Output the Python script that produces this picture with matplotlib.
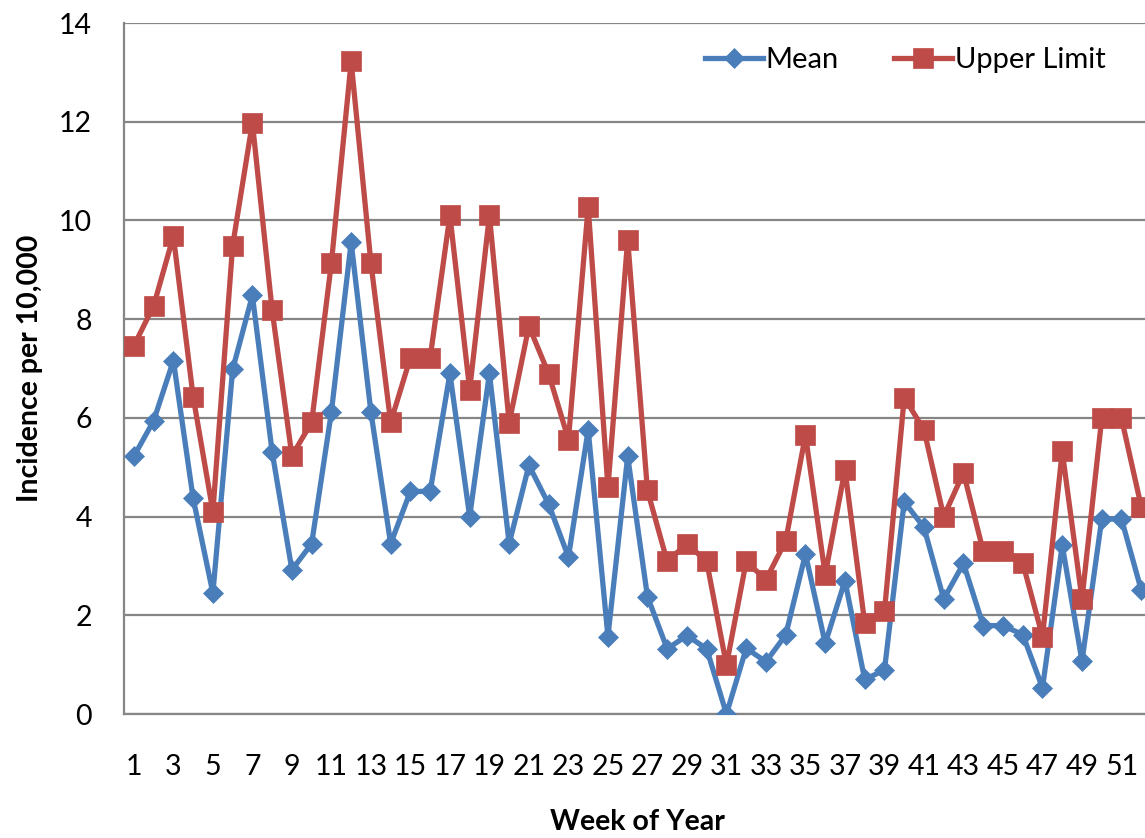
import matplotlib
matplotlib.use("Agg")
import matplotlib.pyplot as plt

""" weekly incidence values read off the reference chart """
weeks = list(range(1, 53))
mean = [5.22, 5.94, 7.16, 4.37, 2.45, 6.98, 8.48, 5.31, 2.92, 3.45,
        6.12, 9.56, 6.12, 3.45, 4.51, 4.51, 6.90, 4.00, 6.90, 3.45,
        5.04, 4.25, 3.18, 5.76, 1.57, 5.22, 2.38, 1.32, 1.59, 1.32,
        0.00, 1.33, 1.06, 1.60, 3.24, 1.43, 2.70, 0.70, 0.89, 4.30,
        3.78, 2.33, 3.05, 1.79, 1.79, 1.61, 0.53, 3.42, 1.07, 3.95,
        3.95, 2.51]
upper = [7.46, 8.27, 9.68, 6.43, 4.10, 9.49, 11.98, 8.18, 5.23, 5.91,
         9.14, 13.22, 9.14, 5.91, 7.22, 7.22, 10.10, 6.57, 10.10, 5.90,
         7.86, 6.89, 5.56, 10.28, 4.59, 9.61, 4.53, 3.09, 3.45, 3.09,
         0.99, 3.09, 2.72, 3.51, 5.65, 2.82, 4.95, 1.84, 2.08, 6.41,
         5.76, 4.00, 4.89, 3.30, 3.30, 3.06, 1.57, 5.32, 2.33, 5.99,
         5.99, 4.20]
yticks = list(range(0, 15, 2))
xticks = list(range(1, 53, 2))

plt.rcParams["font.family"] = ["Lato", "DejaVu Sans"]
fs = 20.5

W, H = 1145, 838
fig = plt.figure(figsize=(W / 100, H / 100), dpi=100)
ax = fig.add_axes([124 / W, 1 - 714 / H, (W - 124) / W, (714 - 23) / H])

blue = "#4A7EBB"
red = "#BE4B48"
grey = "#868686"

ax.plot(weeks, mean, color=blue, lw=3.8, marker="D", ms=10.2,
        mec=blue, mew=0.5, label="Mean", zorder=3)
ax.plot(weeks, upper, color=red, lw=3.8, marker="s", ms=14,
        mec=red, mew=0.5, label="Upper Limit", zorder=4)

ax.set_ylim(0, 14)
ax.set_xlim(0.5, 52.19)
ax.set_yticks(yticks)
ax.set_xticks(xticks)
ax.tick_params(axis="both", length=0, labelsize=fs)
ax.tick_params(axis="y", pad=23)
ax.tick_params(axis="x", pad=29)

ax.yaxis.grid(True, color=grey, lw=1.6)
ax.set_axisbelow(True)
for s in ["top", "right"]:
  ax.spines[s].set_visible(False)
for s in ["left", "bottom"]:
  ax.spines[s].set_color(grey)
  ax.spines[s].set_linewidth(1.6)

fig.text(637 / W, 1 - 822 / H, "Week of Year", ha="center", va="center",
         fontsize=fs, fontweight="bold")
fig.text(30 / W, 1 - 368 / H, "Incidence per 10,000", ha="center", va="center",
         rotation=90, fontsize=fs, fontweight="bold")

fig.legend(loc="center", bbox_to_anchor=(905 / W, 1 - 60 / H), ncol=2,
           frameon=False, fontsize=fs + 0.5, handlelength=2.0, handletextpad=0.08,
           columnspacing=1.9)

fig.savefig("out.png", dpi=100)
plt.close()
